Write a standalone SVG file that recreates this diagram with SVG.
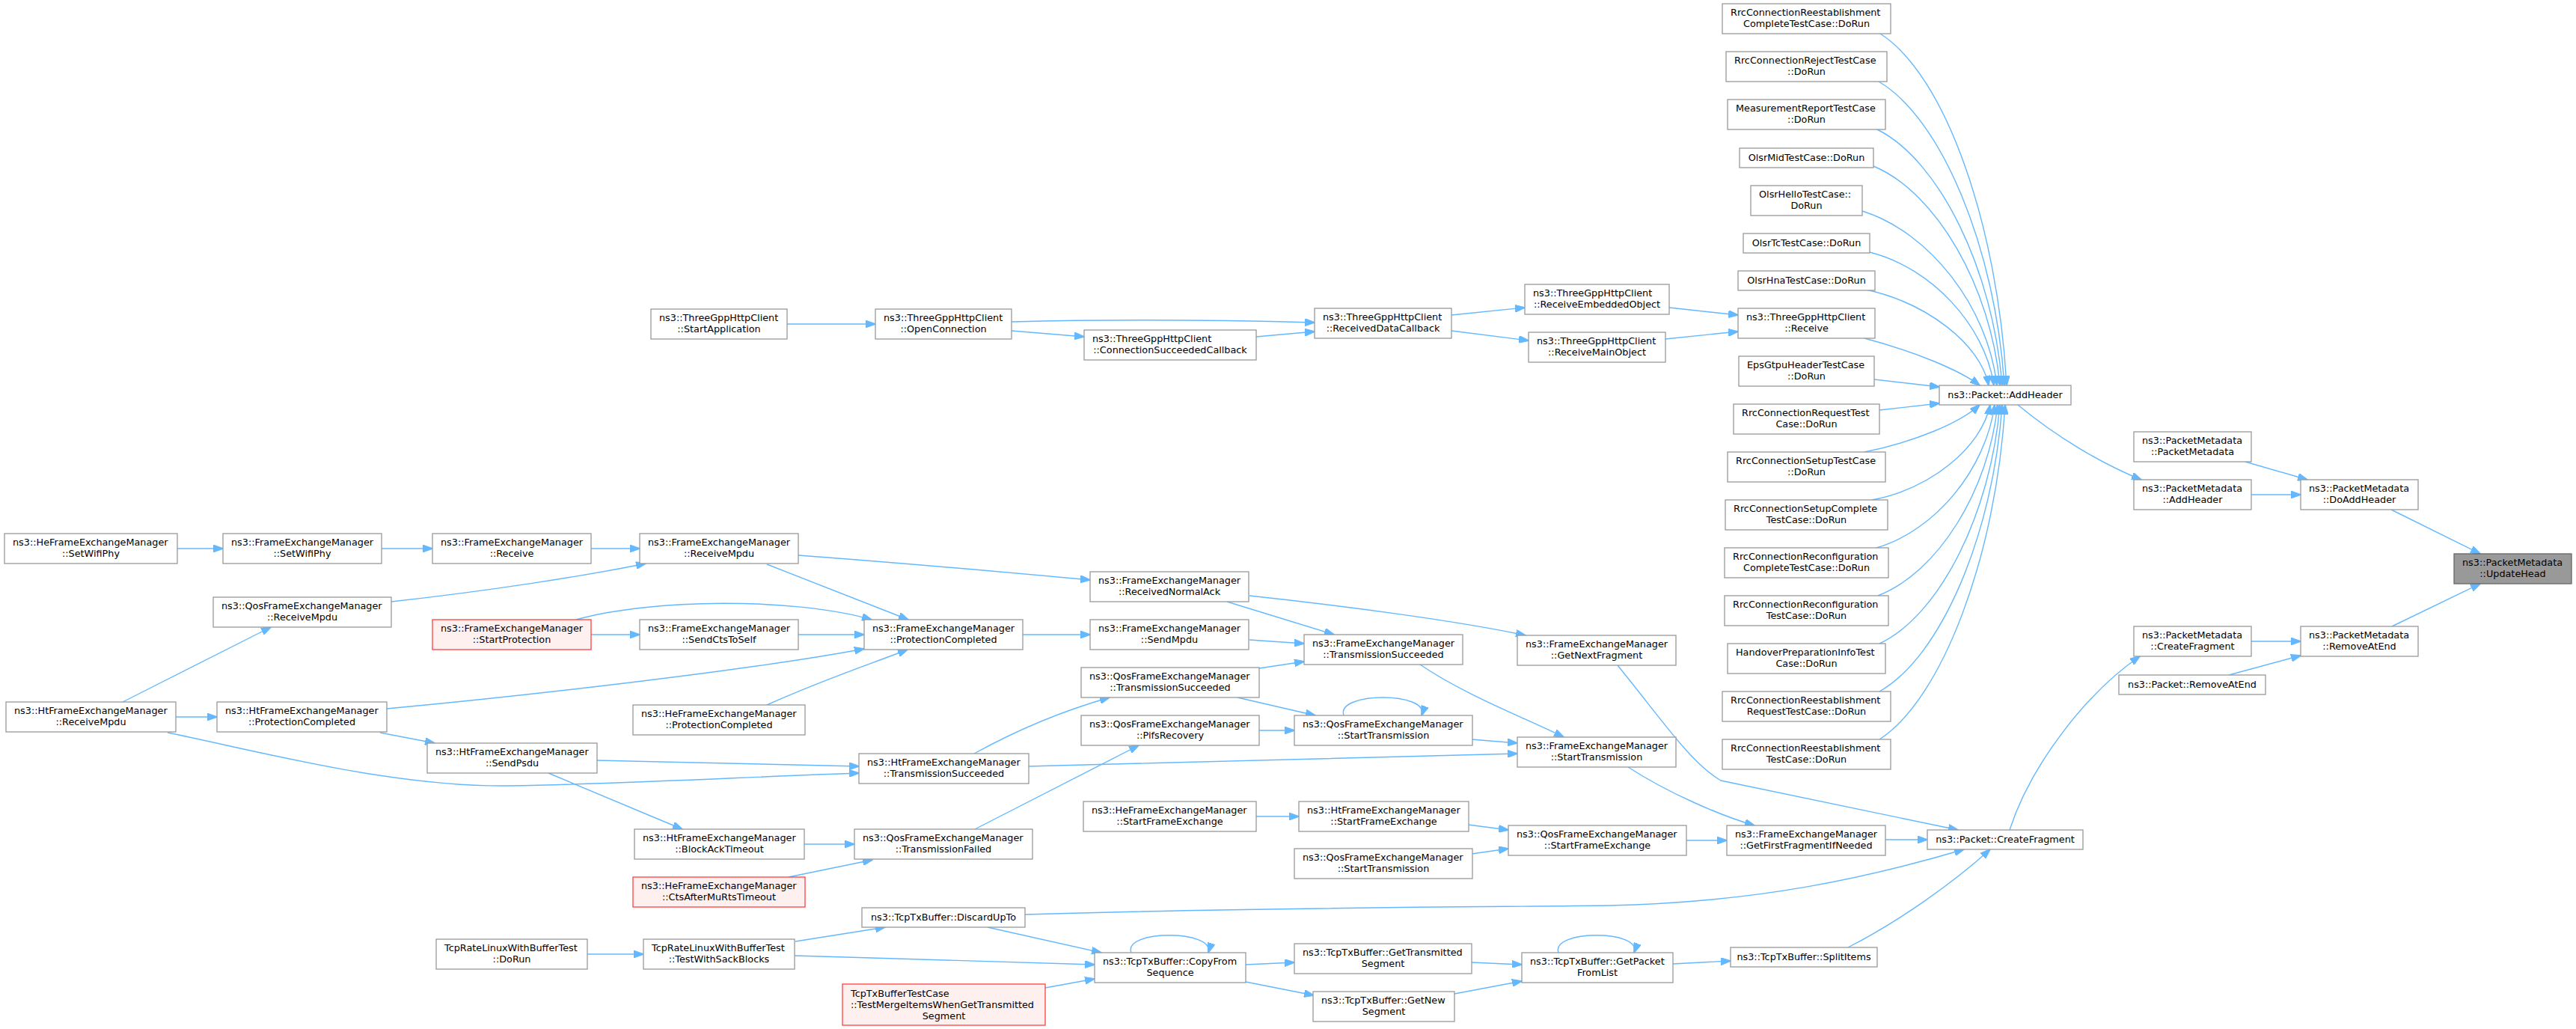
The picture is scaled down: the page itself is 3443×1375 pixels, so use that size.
<svg xmlns="http://www.w3.org/2000/svg" width="3443" height="1375" viewBox="0 0 3443 1375">
<style>
.node rect{fill:#ffffff;stroke:#999999;stroke-width:1.3}
.node.hl rect{fill:#999999;stroke:#666666}
.node.red rect{fill:#fff0f0;stroke:#ff4040}
text{font-family:"DejaVu Sans","Liberation Sans",sans-serif;font-size:12.8px;fill:#000000}
.l{text-anchor:start}
.c{text-anchor:middle}
#edges path{fill:none;stroke:#63b8ff;stroke-width:1.4;marker-end:url(#a)}
</style>
<defs>
<marker id="a" markerWidth="14" markerHeight="10" refX="13" refY="5" orient="auto" markerUnits="userSpaceOnUse">
<path d="M0,0 L14,5 L0,10 z" fill="#63b8ff" stroke="#63b8ff" stroke-width="1"/>
</marker>
</defs>
<rect x="0" y="0" width="3443" height="1375" fill="#ffffff"/>
<g id="edges">
<path d="M3196,681 L3315,740"/>
<path d="M3197,837 L3315,780"/>
<path d="M3001,617 L3084,641"/>
<path d="M3009,661 L3075,661"/>
<path d="M3009,857 L3075,857"/>
<path d="M2979,902 L3075,876"/>
<path d="M2697,541 C2750,585 2810,620 2862,641"/>
<path d="M2686,1109 C2715,1020 2790,925 2860,877"/>
<path d="M2513,45 C2600,100 2670,300 2682,515"/>
<path d="M2511,109 C2595,158 2667,332 2679,515"/>
<path d="M2509,173 C2592,214 2664,361 2676,515"/>
<path d="M2504,222 C2588,257 2661,383 2673,515"/>
<path d="M2489,282 C2579,310 2657,410 2669,515"/>
<path d="M2499,337 C2582,358 2653,435 2665,515"/>
<path d="M2494,387 C2576,405 2647,460 2658,515"/>
<path d="M2492,452 C2560,470 2620,495 2646,515"/>
<path d="M2505,507 L2592,517"/>
<path d="M2512,548 L2592,539"/>
<path d="M2492,604 C2560,590 2620,565 2646,541"/>
<path d="M2502,668 C2581,653 2648,598 2660,541"/>
<path d="M2508,732 C2587,709 2654,627 2666,541"/>
<path d="M2510,796 C2590,765 2658,656 2670,541"/>
<path d="M2512,860 C2593,822 2661,685 2673,541"/>
<path d="M2512,924 C2594,878 2664,714 2676,541"/>
<path d="M2512,988 C2596,934 2668,742 2680,541"/>
<path d="M1052,433 L1170,433"/>
<path d="M1352,430 C1500,426 1650,428 1757,431"/>
<path d="M1352,442 L1449,450"/>
<path d="M1679,450 C1710,447 1735,445 1757,443"/>
<path d="M1940,421 L2038,411"/>
<path d="M1940,442 L2043,455"/>
<path d="M2231,411 L2323,421"/>
<path d="M2226,453 L2323,443"/>
<path d="M237,733 L298,733"/>
<path d="M510,733 L578,733"/>
<path d="M790,733 L855,733"/>
<path d="M523,804 C650,790 780,770 863,753"/>
<path d="M164,938 L362,838"/>
<path d="M235,958 L290,958"/>
<path d="M224,979 C330,1000 520,1052 680,1050 C850,1047 1000,1038 1148,1033"/>
<path d="M517,947 C700,930 1000,896 1155,867"/>
<path d="M508,979 L581,993"/>
<path d="M1025,754 L1214,828"/>
<path d="M1067,742 C1200,752 1350,765 1457,775"/>
<path d="M790,848 L855,848"/>
<path d="M770,828 C870,800 1060,798 1165,828"/>
<path d="M1067,848 L1155,848"/>
<path d="M1025,942 C1100,908 1170,885 1213,868"/>
<path d="M1367,848 L1457,848"/>
<path d="M797,1016 L1148,1024"/>
<path d="M733,1033 L912,1108"/>
<path d="M1302,1007 C1360,975 1420,950 1483,932"/>
<path d="M1374,1024 C1600,1018 1850,1012 2028,1007"/>
<path d="M1075,1128 L1142,1128"/>
<path d="M1054,1172 L1166,1149"/>
<path d="M1303,1108 L1522,996"/>
<path d="M1640,804 L1783,848"/>
<path d="M1670,796 C1800,810 1950,830 2039,849"/>
<path d="M1670,855 L1743,860"/>
<path d="M1683,893 L1743,884"/>
<path d="M1654,932 L1758,956"/>
<path d="M1683,976 L1730,976"/>
<path d="M1796,956 C1785,924 1912,924 1900,956"/>
<path d="M1967,988 L2028,993"/>
<path d="M1898,888 C1960,930 2040,960 2090,985"/>
<path d="M2162,889 C2220,960 2260,1020 2300,1043 L2617,1109"/>
<path d="M2176,1025 C2230,1060 2300,1090 2345,1103"/>
<path d="M1679,1091 L1736,1091"/>
<path d="M1962,1102 L2016,1109"/>
<path d="M1967,1141 L2016,1134"/>
<path d="M2254,1123 L2308,1123"/>
<path d="M2520,1122 L2576,1122"/>
<path d="M785,1275 L860,1275"/>
<path d="M1063,1258 L1183,1239"/>
<path d="M1062,1277 C1200,1281 1350,1285 1463,1289"/>
<path d="M1320,1239 L1472,1273"/>
<path d="M1370,1222 C1700,1212 2000,1212 2150,1210 C2350,1206 2500,1172 2625,1135"/>
<path d="M1397,1320 L1463,1308"/>
<path d="M1512,1273 C1500,1242 1625,1242 1615,1273"/>
<path d="M1665,1289 L1730,1286"/>
<path d="M1665,1312 L1756,1330"/>
<path d="M1967,1286 L2034,1289"/>
<path d="M1944,1328 L2034,1311"/>
<path d="M2083,1273 C2072,1242 2196,1242 2184,1273"/>
<path d="M2236,1288 L2313,1284"/>
<path d="M2470,1266 C2540,1230 2610,1180 2660,1135"/>
</g>
<g id="n01" class="node"><rect x="2302" y="5" width="225" height="40"/><text class="l" x="2313" y="21">RrcConnectionReestablishment</text><text class="c" x="2414.5" y="36">CompleteTestCase::DoRun</text></g>
<g id="n02" class="node"><rect x="2307" y="69" width="215" height="40"/><text class="l" x="2318" y="85">RrcConnectionRejectTestCase</text><text class="c" x="2414.5" y="100">::DoRun</text></g>
<g id="n03" class="node"><rect x="2309" y="133" width="211" height="40"/><text class="l" x="2320" y="149">MeasurementReportTestCase</text><text class="c" x="2414.5" y="164">::DoRun</text></g>
<g id="n04" class="node"><rect x="2325" y="198" width="179" height="26"/><text class="c" x="2414.5" y="215">OlsrMidTestCase::DoRun</text></g>
<g id="n05" class="node"><rect x="2340" y="248" width="149" height="40"/><text class="l" x="2351" y="264">OlsrHelloTestCase::</text><text class="c" x="2414.5" y="279">DoRun</text></g>
<g id="n06" class="node"><rect x="2330" y="312" width="169" height="26"/><text class="c" x="2414.5" y="329">OlsrTcTestCase::DoRun</text></g>
<g id="n07" class="node"><rect x="2323" y="362" width="183" height="26"/><text class="c" x="2414.5" y="379">OlsrHnaTestCase::DoRun</text></g>
<g id="n08" class="node"><rect x="2323" y="412" width="183" height="40"/><text class="l" x="2334" y="428">ns3::ThreeGppHttpClient</text><text class="c" x="2414.5" y="443">::Receive</text></g>
<g id="n09" class="node"><rect x="2324" y="476" width="181" height="40"/><text class="l" x="2335" y="492">EpsGtpuHeaderTestCase</text><text class="c" x="2414.5" y="507">::DoRun</text></g>
<g id="n10" class="node"><rect x="2317" y="540" width="195" height="40"/><text class="l" x="2328" y="556">RrcConnectionRequestTest</text><text class="c" x="2414.5" y="571">Case::DoRun</text></g>
<g id="n11" class="node"><rect x="2309" y="604" width="211" height="40"/><text class="l" x="2320" y="620">RrcConnectionSetupTestCase</text><text class="c" x="2414.5" y="635">::DoRun</text></g>
<g id="n12" class="node"><rect x="2306" y="668" width="217" height="40"/><text class="l" x="2317" y="684">RrcConnectionSetupComplete</text><text class="c" x="2414.5" y="699">TestCase::DoRun</text></g>
<g id="n13" class="node"><rect x="2305" y="732" width="219" height="40"/><text class="l" x="2316" y="748">RrcConnectionReconfiguration</text><text class="c" x="2414.5" y="763">CompleteTestCase::DoRun</text></g>
<g id="n14" class="node"><rect x="2305" y="796" width="219" height="40"/><text class="l" x="2316" y="812">RrcConnectionReconfiguration</text><text class="c" x="2414.5" y="827">TestCase::DoRun</text></g>
<g id="n15" class="node"><rect x="2309" y="860" width="211" height="40"/><text class="l" x="2320" y="876">HandoverPreparationInfoTest</text><text class="c" x="2414.5" y="891">Case::DoRun</text></g>
<g id="n16" class="node"><rect x="2302" y="924" width="225" height="40"/><text class="l" x="2313" y="940">RrcConnectionReestablishment</text><text class="c" x="2414.5" y="955">RequestTestCase::DoRun</text></g>
<g id="n17" class="node"><rect x="2302" y="988" width="225" height="40"/><text class="l" x="2313" y="1004">RrcConnectionReestablishment</text><text class="c" x="2414.5" y="1019">TestCase::DoRun</text></g>
<g id="n18" class="node"><rect x="2592" y="515" width="176" height="26"/><text class="c" x="2680" y="532">ns3::Packet::AddHeader</text></g>
<g id="n19" class="node"><rect x="2852" y="577" width="157" height="40"/><text class="l" x="2863" y="593">ns3::PacketMetadata</text><text class="c" x="2930.5" y="608">::PacketMetadata</text></g>
<g id="n20" class="node"><rect x="2852" y="641" width="157" height="40"/><text class="l" x="2863" y="657">ns3::PacketMetadata</text><text class="c" x="2930.5" y="672">::AddHeader</text></g>
<g id="n21" class="node"><rect x="3075" y="641" width="157" height="40"/><text class="l" x="3086" y="657">ns3::PacketMetadata</text><text class="c" x="3153.5" y="672">::DoAddHeader</text></g>
<g id="n22" class="node hl"><rect x="3280" y="740" width="157" height="40"/><text class="l" x="3291" y="756">ns3::PacketMetadata</text><text class="c" x="3358.5" y="771">::UpdateHead</text></g>
<g id="n23" class="node"><rect x="2852" y="837" width="157" height="40"/><text class="l" x="2863" y="853">ns3::PacketMetadata</text><text class="c" x="2930.5" y="868">::CreateFragment</text></g>
<g id="n24" class="node"><rect x="3075" y="837" width="157" height="40"/><text class="l" x="3086" y="853">ns3::PacketMetadata</text><text class="c" x="3153.5" y="868">::RemoveAtEnd</text></g>
<g id="n25" class="node"><rect x="2832" y="902" width="196" height="26"/><text class="c" x="2930" y="919">ns3::Packet::RemoveAtEnd</text></g>
<g id="n26" class="node"><rect x="2576" y="1109" width="208" height="26"/><text class="c" x="2680" y="1126">ns3::Packet::CreateFragment</text></g>
<g id="n27" class="node"><rect x="870" y="413" width="182" height="40"/><text class="l" x="881" y="429">ns3::ThreeGppHttpClient</text><text class="c" x="961" y="444">::StartApplication</text></g>
<g id="n28" class="node"><rect x="1170" y="413" width="182" height="40"/><text class="l" x="1181" y="429">ns3::ThreeGppHttpClient</text><text class="c" x="1261" y="444">::OpenConnection</text></g>
<g id="n29" class="node"><rect x="1449" y="441" width="230" height="40"/><text class="l" x="1460" y="457">ns3::ThreeGppHttpClient</text><text class="c" x="1564" y="472">::ConnectionSucceededCallback</text></g>
<g id="n30" class="node"><rect x="1757" y="412" width="183" height="40"/><text class="l" x="1768" y="428">ns3::ThreeGppHttpClient</text><text class="c" x="1848.5" y="443">::ReceivedDataCallback</text></g>
<g id="n31" class="node"><rect x="2038" y="380" width="193" height="40"/><text class="l" x="2049" y="396">ns3::ThreeGppHttpClient</text><text class="c" x="2134.5" y="411">::ReceiveEmbeddedObject</text></g>
<g id="n32" class="node"><rect x="2043" y="444" width="183" height="40"/><text class="l" x="2054" y="460">ns3::ThreeGppHttpClient</text><text class="c" x="2134.5" y="475">::ReceiveMainObject</text></g>
<g id="n33" class="node"><rect x="6" y="713" width="231" height="40"/><text class="l" x="17" y="729">ns3::HeFrameExchangeManager</text><text class="c" x="121.5" y="744">::SetWifiPhy</text></g>
<g id="n34" class="node"><rect x="298" y="713" width="212" height="40"/><text class="l" x="309" y="729">ns3::FrameExchangeManager</text><text class="c" x="404" y="744">::SetWifiPhy</text></g>
<g id="n35" class="node"><rect x="578" y="713" width="212" height="40"/><text class="l" x="589" y="729">ns3::FrameExchangeManager</text><text class="c" x="684" y="744">::Receive</text></g>
<g id="n36" class="node"><rect x="855" y="713" width="212" height="40"/><text class="l" x="866" y="729">ns3::FrameExchangeManager</text><text class="c" x="961" y="744">::ReceiveMpdu</text></g>
<g id="n37" class="node"><rect x="285" y="798" width="238" height="40"/><text class="l" x="296" y="814">ns3::QosFrameExchangeManager</text><text class="c" x="404" y="829">::ReceiveMpdu</text></g>
<g id="n38" class="node red"><rect x="578" y="828" width="212" height="40"/><text class="l" x="589" y="844">ns3::FrameExchangeManager</text><text class="c" x="684" y="859">::StartProtection</text></g>
<g id="n39" class="node"><rect x="855" y="828" width="212" height="40"/><text class="l" x="866" y="844">ns3::FrameExchangeManager</text><text class="c" x="961" y="859">::SendCtsToSelf</text></g>
<g id="n40" class="node"><rect x="1155" y="828" width="212" height="40"/><text class="l" x="1166" y="844">ns3::FrameExchangeManager</text><text class="c" x="1261" y="859">::ProtectionCompleted</text></g>
<g id="n41" class="node"><rect x="846" y="942" width="230" height="40"/><text class="l" x="857" y="958">ns3::HeFrameExchangeManager</text><text class="c" x="961" y="973">::ProtectionCompleted</text></g>
<g id="n42" class="node"><rect x="8" y="938" width="227" height="40"/><text class="l" x="19" y="954">ns3::HtFrameExchangeManager</text><text class="c" x="121.5" y="969">::ReceiveMpdu</text></g>
<g id="n43" class="node"><rect x="290" y="938" width="227" height="40"/><text class="l" x="301" y="954">ns3::HtFrameExchangeManager</text><text class="c" x="403.5" y="969">::ProtectionCompleted</text></g>
<g id="n44" class="node"><rect x="571" y="993" width="227" height="40"/><text class="l" x="582" y="1009">ns3::HtFrameExchangeManager</text><text class="c" x="684.5" y="1024">::SendPsdu</text></g>
<g id="n45" class="node"><rect x="1148" y="1007" width="227" height="40"/><text class="l" x="1159" y="1023">ns3::HtFrameExchangeManager</text><text class="c" x="1261.5" y="1038">::TransmissionSucceeded</text></g>
<g id="n46" class="node"><rect x="848" y="1108" width="227" height="40"/><text class="l" x="859" y="1124">ns3::HtFrameExchangeManager</text><text class="c" x="961.5" y="1139">::BlockAckTimeout</text></g>
<g id="n47" class="node red"><rect x="846" y="1172" width="230" height="40"/><text class="l" x="857" y="1188">ns3::HeFrameExchangeManager</text><text class="c" x="961" y="1203">::CtsAfterMuRtsTimeout</text></g>
<g id="n48" class="node"><rect x="1142" y="1108" width="238" height="40"/><text class="l" x="1153" y="1124">ns3::QosFrameExchangeManager</text><text class="c" x="1261" y="1139">::TransmissionFailed</text></g>
<g id="n49" class="node"><rect x="1457" y="764" width="212" height="40"/><text class="l" x="1468" y="780">ns3::FrameExchangeManager</text><text class="c" x="1563" y="795">::ReceivedNormalAck</text></g>
<g id="n50" class="node"><rect x="1457" y="828" width="212" height="40"/><text class="l" x="1468" y="844">ns3::FrameExchangeManager</text><text class="c" x="1563" y="859">::SendMpdu</text></g>
<g id="n51" class="node"><rect x="1445" y="892" width="238" height="40"/><text class="l" x="1456" y="908">ns3::QosFrameExchangeManager</text><text class="c" x="1564" y="923">::TransmissionSucceeded</text></g>
<g id="n52" class="node"><rect x="1445" y="956" width="238" height="40"/><text class="l" x="1456" y="972">ns3::QosFrameExchangeManager</text><text class="c" x="1564" y="987">::PifsRecovery</text></g>
<g id="n53" class="node"><rect x="1448" y="1071" width="231" height="40"/><text class="l" x="1459" y="1087">ns3::HeFrameExchangeManager</text><text class="c" x="1563.5" y="1102">::StartFrameExchange</text></g>
<g id="n54" class="node"><rect x="1743" y="848" width="212" height="40"/><text class="l" x="1754" y="864">ns3::FrameExchangeManager</text><text class="c" x="1849" y="879">::TransmissionSucceeded</text></g>
<g id="n55" class="node"><rect x="1730" y="956" width="238" height="40"/><text class="l" x="1741" y="972">ns3::QosFrameExchangeManager</text><text class="c" x="1849" y="987">::StartTransmission</text></g>
<g id="n56" class="node"><rect x="1736" y="1071" width="227" height="40"/><text class="l" x="1747" y="1087">ns3::HtFrameExchangeManager</text><text class="c" x="1849.5" y="1102">::StartFrameExchange</text></g>
<g id="n57" class="node"><rect x="1730" y="1134" width="238" height="40"/><text class="l" x="1741" y="1150">ns3::QosFrameExchangeManager</text><text class="c" x="1849" y="1165">::StartTransmission</text></g>
<g id="n58" class="node"><rect x="2028" y="849" width="212" height="40"/><text class="l" x="2039" y="865">ns3::FrameExchangeManager</text><text class="c" x="2134" y="880">::GetNextFragment</text></g>
<g id="n59" class="node"><rect x="2028" y="985" width="212" height="40"/><text class="l" x="2039" y="1001">ns3::FrameExchangeManager</text><text class="c" x="2134" y="1016">::StartTransmission</text></g>
<g id="n60" class="node"><rect x="2016" y="1103" width="238" height="40"/><text class="l" x="2027" y="1119">ns3::QosFrameExchangeManager</text><text class="c" x="2135" y="1134">::StartFrameExchange</text></g>
<g id="n61" class="node"><rect x="2308" y="1103" width="212" height="40"/><text class="l" x="2319" y="1119">ns3::FrameExchangeManager</text><text class="c" x="2414" y="1134">::GetFirstFragmentIfNeeded</text></g>
<g id="n62" class="node"><rect x="583" y="1255" width="202" height="40"/><text class="l" x="594" y="1271">TcpRateLinuxWithBufferTest</text><text class="c" x="684" y="1286">::DoRun</text></g>
<g id="n63" class="node"><rect x="860" y="1255" width="202" height="40"/><text class="l" x="871" y="1271">TcpRateLinuxWithBufferTest</text><text class="c" x="961" y="1286">::TestWithSackBlocks</text></g>
<g id="n64" class="node"><rect x="1152" y="1213" width="218" height="26"/><text class="c" x="1261" y="1230">ns3::TcpTxBuffer::DiscardUpTo</text></g>
<g id="n65" class="node red"><rect x="1126" y="1315" width="271" height="55"/><text class="l" x="1137" y="1331.5">TcpTxBufferTestCase</text><text class="l" x="1137" y="1346.5">::TestMergeItemsWhenGetTransmitted</text><text class="c" x="1261.5" y="1361.5">Segment</text></g>
<g id="n66" class="node"><rect x="1463" y="1273" width="202" height="40"/><text class="l" x="1474" y="1289">ns3::TcpTxBuffer::CopyFrom</text><text class="c" x="1564" y="1304">Sequence</text></g>
<g id="n67" class="node"><rect x="1730" y="1261" width="237" height="40"/><text class="l" x="1741" y="1277">ns3::TcpTxBuffer::GetTransmitted</text><text class="c" x="1848.5" y="1292">Segment</text></g>
<g id="n68" class="node"><rect x="1755" y="1325" width="189" height="40"/><text class="l" x="1766" y="1341">ns3::TcpTxBuffer::GetNew</text><text class="c" x="1849.5" y="1356">Segment</text></g>
<g id="n69" class="node"><rect x="2034" y="1273" width="202" height="40"/><text class="l" x="2045" y="1289">ns3::TcpTxBuffer::GetPacket</text><text class="c" x="2135" y="1304">FromList</text></g>
<g id="n70" class="node"><rect x="2313" y="1266" width="196" height="26"/><text class="c" x="2411" y="1283">ns3::TcpTxBuffer::SplitItems</text></g>
</svg>
